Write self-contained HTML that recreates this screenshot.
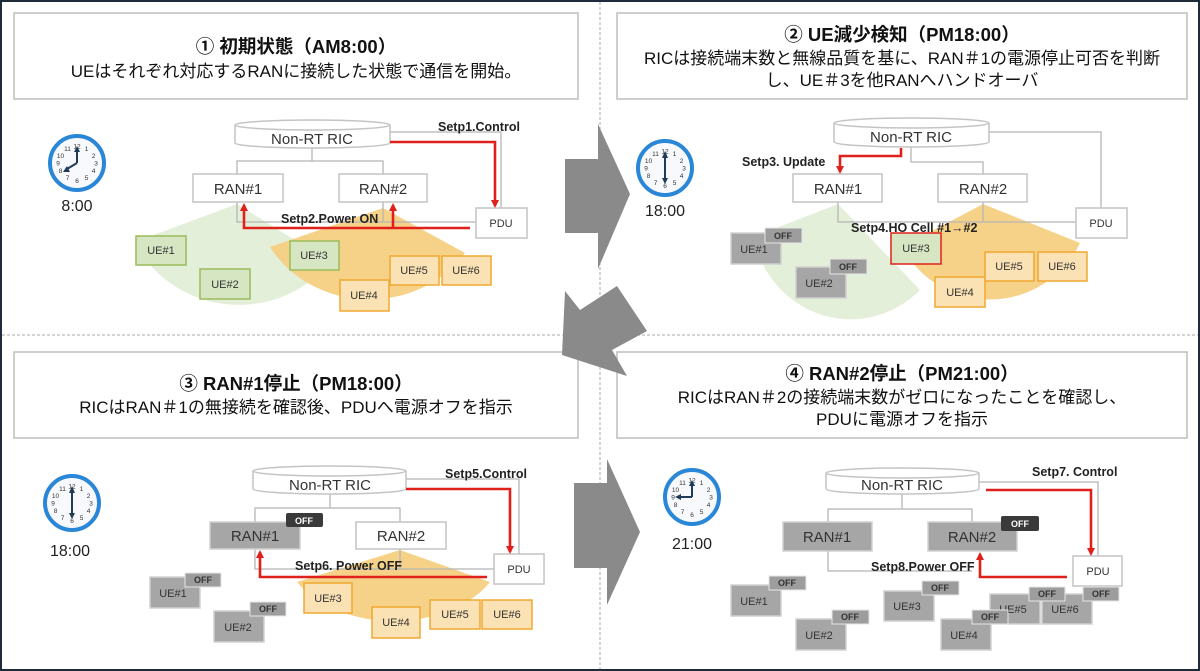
<!DOCTYPE html>
<html><head><meta charset="utf-8"><style>
html,body{margin:0;padding:0;background:#fff}
svg{display:block}
text{font-family:"Liberation Sans","Noto Sans CJK JP",sans-serif}
.t{font-size:18.5px;font-weight:bold;fill:#111;text-anchor:middle}
.s{font-size:17px;fill:#111;text-anchor:middle}
.hb{fill:#fff;stroke:#bdbdbd;stroke-width:1.5}
.g{stroke:#b5b5b5;stroke-width:1.3;fill:none}
.r{stroke:#e0201b;stroke-width:2.6;fill:none}
.box{fill:#fff;stroke:#c4c4c4;stroke-width:1.5}
.gbox{fill:#a6a6a6;stroke:#d0d0d0;stroke-width:1.5}
.ran{font-size:15px;fill:#333;text-anchor:middle}
.ue{font-size:11px;fill:#333;text-anchor:middle}
.lb{font-size:12.5px;font-weight:bold;fill:#222}
.ueg{fill:#d6e6c3;stroke:#9bbb59;stroke-width:1.5}
.ueo{fill:#fbe2b4;stroke:#f0a830;stroke-width:1.5}
.off{fill:#9d9d9d;stroke:#e6e6e6;stroke-width:1}
.offt{font-size:9px;font-weight:bold;fill:#333;text-anchor:middle}
.doff{fill:#3a3a3a}
.dofft{font-size:9px;font-weight:bold;fill:#fff;text-anchor:middle}
.cn{font-size:6.5px;fill:#333;text-anchor:middle}
.ck{font-size:16px;fill:#222;text-anchor:middle}
.arw{fill:#8a8a8a}
</style></head><body>
<svg width="1200" height="671" viewBox="0 0 1200 671" xmlns="http://www.w3.org/2000/svg">
<defs>
<marker id="ah" markerWidth="8" markerHeight="8" refX="6" refY="4" orient="auto" markerUnits="userSpaceOnUse"><path d="M0,0 L8,4 L0,8 Z" fill="#e0201b"/></marker>
</defs>
<rect x="1" y="1" width="1198" height="669" fill="#fff" stroke="#1e2b3a" stroke-width="2"/>
<line x1="600" y1="2" x2="600" y2="669" stroke="#aaa" stroke-dasharray="3,2"/>
<line x1="2" y1="335" x2="1198" y2="335" stroke="#aaa" stroke-dasharray="3,2"/>

<rect class="hb" x="14" y="13" width="564" height="86"/>
<text class="t" x="296" y="53">① 初期状態（AM8:00）</text>
<text class="s" x="296" y="77">UEはそれぞれ対応するRANに接続した状態で通信を開始。</text>
<rect class="hb" x="617" y="13" width="570" height="86"/>
<text class="t" x="902" y="41">② UE減少検知（PM18:00）</text>
<text class="s" x="902" y="64">RICは接続端末数と無線品質を基に、RAN＃1の電源停止可否を判断</text>
<text class="s" x="902" y="86">し、UE＃3を他RANへハンドオーバ</text>
<rect class="hb" x="14" y="352" width="564" height="86"/>
<text class="t" x="296" y="390">③ RAN#1停止（PM18:00）</text>
<text class="s" x="296" y="413">RICはRAN＃1の無接続を確認後、PDUへ電源オフを指示</text>
<rect class="hb" x="617" y="352" width="570" height="86"/>
<text class="t" x="902" y="380">④ RAN#2停止（PM21:00）</text>
<text class="s" x="902" y="403">RICはRAN＃2の接続端末数がゼロになったことを確認し、</text>
<text class="s" x="902" y="425">PDUに電源オフを指示</text>

<polygon class="arw" points="565,159 598,159 598,124 630,194 598,269 598,233 565,233"/>
<polygon class="arw" points="565,291 580,310 617,286 647,331 612,350 627,376 562,355"/>
<polygon class="arw" points="574,483 607,483 607,459 640,532 607,605 607,568 574,568"/>

<g transform="translate(77,163)">
<circle r="27" fill="#f7f9fc" stroke="#2a86d6" stroke-width="4"/>
<text class="cn" x="0" y="-14.5">12</text><text class="cn" x="9.5" y="-12">1</text><text class="cn" x="16.5" y="-5">2</text><text class="cn" x="19" y="2.5">3</text><text class="cn" x="16.5" y="10">4</text><text class="cn" x="9.5" y="17">5</text><text class="cn" x="0" y="20">6</text><text class="cn" x="-9.5" y="17">7</text><text class="cn" x="-16.5" y="10">8</text><text class="cn" x="-19" y="2.5">9</text><text class="cn" x="-16.5" y="-5">10</text><text class="cn" x="-9.5" y="-12">11</text>
<line x1="0" y1="0" x2="0" y2="-15" stroke="#1f3b57" stroke-width="2"/><polygon points="-3,-11 3,-11 0,-17" fill="#1f3b57"/>
<line x1="0" y1="0" x2="-10" y2="6" stroke="#1f3b57" stroke-width="2"/><polygon points="-7,9 -10,3 -14,9" fill="#1f3b57"/>
</g>
<text class="ck" x="77" y="211">8:00</text>

<path d="M237 204 L135 242 A115 110 0 0 0 330 262 Z" fill="#e3efd9"/>
<path d="M383 208 L270 247 A115 105 0 0 0 465 253 Z" fill="#f5cd7c" opacity="0.9"/>

<polyline class="g" points="312,147 312,161 237,161 237,174"/><polyline class="g" points="312,161 383,161 383,174"/>
<polyline class="g" points="390,132 501,132 501,208"/>
<polyline class="g" points="237,202 237,222 476,222"/><line class="g" x1="383" y1="202" x2="383" y2="222"/>
<path d="M235 125 L235 143 A77.5 5 0 0 0 390 143 L390 125" class="box"/><ellipse cx="312.5" cy="125" rx="77.5" ry="5" class="box"/>
<text class="ran" x="312" y="144">Non-RT RIC</text>
<rect class="box" x="193" y="174" width="90" height="28"/><text class="ran" x="238" y="194">RAN#1</text>
<rect class="box" x="339" y="174" width="88" height="28"/><text class="ran" x="383" y="194">RAN#2</text>
<rect class="box" x="476" y="208" width="51" height="30"/><text class="ue" x="501" y="227">PDU</text>
<polyline class="r" points="390,142 495,142 495,206" marker-end="url(#ah)"/>
<polyline class="r" points="470,228 244,228 244,205" marker-end="url(#ah)"/>
<line class="r" x1="393" y1="228" x2="393" y2="205" marker-end="url(#ah)"/>
<text class="lb" x="438" y="131">Setp1.Control</text>
<text class="lb" x="281" y="223">Setp2.Power ON</text>
<rect class="ueg" x="136" y="236" width="50" height="29"/><text class="ue" x="161" y="254">UE#1</text>
<rect class="ueg" x="200" y="269" width="50" height="30"/><text class="ue" x="225" y="288">UE#2</text>
<rect class="ueg" x="290" y="241" width="49" height="29"/><text class="ue" x="314" y="259">UE#3</text>
<rect class="ueo" x="340" y="280" width="49" height="31"/><text class="ue" x="364" y="299">UE#4</text>
<rect class="ueo" x="390" y="256" width="49" height="29"/><text class="ue" x="414" y="274">UE#5</text>
<rect class="ueo" x="442" y="256" width="49" height="29"/><text class="ue" x="466" y="274">UE#6</text>

<g transform="translate(665,168)">
<circle r="27" fill="#f7f9fc" stroke="#2a86d6" stroke-width="4"/>
<text class="cn" x="0" y="-14.5">12</text><text class="cn" x="9.5" y="-12">1</text><text class="cn" x="16.5" y="-5">2</text><text class="cn" x="19" y="2.5">3</text><text class="cn" x="16.5" y="10">4</text><text class="cn" x="9.5" y="17">5</text><text class="cn" x="0" y="20">6</text><text class="cn" x="-9.5" y="17">7</text><text class="cn" x="-16.5" y="10">8</text><text class="cn" x="-19" y="2.5">9</text><text class="cn" x="-16.5" y="-5">10</text><text class="cn" x="-9.5" y="-12">11</text>
<line x1="0" y1="-14" x2="0" y2="14" stroke="#1f3b57" stroke-width="2"/><polygon points="-3,-10 3,-10 0,-17" fill="#1f3b57"/><polygon points="-3,10 3,10 0,16" fill="#1f3b57"/>
</g>
<text class="ck" x="665" y="216">18:00</text>

<path d="M838 204 L753 237 A100 105 0 0 0 920 290 Z" fill="#e3efd9"/>
<path d="M983 204 L902 247 A100 100 0 0 0 1080 243 Z" fill="#f5cd7c" opacity="0.9"/>

<polyline class="g" points="911,147 911,162 983,162 983,174"/>
<polyline class="g" points="989,132 1101,132 1101,208"/>
<polyline class="g" points="838,202 838,222 1076,222"/><line class="g" x1="983" y1="202" x2="983" y2="222"/>
<path d="M834 123 L834 142 A77.5 5 0 0 0 989 142 L989 123" class="box"/><ellipse cx="911.5" cy="123" rx="77.5" ry="5" class="box"/>
<text class="ran" x="911" y="142">Non-RT RIC</text>
<rect class="box" x="793" y="174" width="89" height="28"/><text class="ran" x="838" y="194">RAN#1</text>
<rect class="box" x="938" y="174" width="89" height="28"/><text class="ran" x="983" y="194">RAN#2</text>
<rect class="box" x="1076" y="208" width="51" height="30"/><text class="ue" x="1101" y="227">PDU</text>
<polyline class="r" points="901,148 901,156 840,156 840,172" marker-end="url(#ah)"/>
<text class="lb" x="742" y="166">Setp3. Update</text>
<rect class="gbox" x="731" y="233" width="50" height="31"/><text class="ue" x="754" y="253">UE#1</text>
<rect class="off" x="765" y="228" width="37" height="15"/><text class="offt" x="783" y="239">OFF</text>
<rect class="gbox" x="796" y="267" width="50" height="31"/><text class="ue" x="819" y="287">UE#2</text>
<rect class="off" x="830" y="259" width="37" height="15"/><text class="offt" x="848" y="270">OFF</text>
<rect x="891" y="233" width="50" height="31" fill="#d6e6c3" stroke="#e0201b" stroke-width="1.5"/><text class="ue" x="916" y="252">UE#3</text>
<rect class="ueo" x="935" y="277" width="50" height="30"/><text class="ue" x="960" y="296">UE#4</text>
<rect class="ueo" x="985" y="252" width="49" height="29"/><text class="ue" x="1009" y="270">UE#5</text>
<rect class="ueo" x="1038" y="252" width="49" height="29"/><text class="ue" x="1062" y="270">UE#6</text>
<text class="lb" x="851" y="232">Setp4.HO Cell #1→#2</text>

<g transform="translate(72,503)">
<circle r="27" fill="#f7f9fc" stroke="#2a86d6" stroke-width="4"/>
<text class="cn" x="0" y="-14.5">12</text><text class="cn" x="9.5" y="-12">1</text><text class="cn" x="16.5" y="-5">2</text><text class="cn" x="19" y="2.5">3</text><text class="cn" x="16.5" y="10">4</text><text class="cn" x="9.5" y="17">5</text><text class="cn" x="0" y="20">6</text><text class="cn" x="-9.5" y="17">7</text><text class="cn" x="-16.5" y="10">8</text><text class="cn" x="-19" y="2.5">9</text><text class="cn" x="-16.5" y="-5">10</text><text class="cn" x="-9.5" y="-12">11</text>
<line x1="0" y1="-14" x2="0" y2="14" stroke="#1f3b57" stroke-width="2"/><polygon points="-3,-10 3,-10 0,-17" fill="#1f3b57"/><polygon points="-3,10 3,10 0,16" fill="#1f3b57"/>
</g>
<text class="ck" x="70" y="556">18:00</text>

<path d="M400 550 L297 582 A110 75 0 0 0 490 582 Z" fill="#f5cd7c" opacity="0.9"/>

<polyline class="g" points="330,493 330,508 255,508 255,522"/><polyline class="g" points="330,508 400,508 400,522"/>
<polyline class="g" points="406,479 519,479 519,554"/>
<polyline class="g" points="255,549 255,569 494,569"/><line class="g" x1="400" y1="549" x2="400" y2="569"/>
<path d="M253 471 L253 489 A76.5 5 0 0 0 406 489 L406 471" class="box"/><ellipse cx="329.5" cy="471" rx="76.5" ry="5" class="box"/>
<text class="ran" x="330" y="490">Non-RT RIC</text>
<rect class="gbox" x="210" y="522" width="90" height="27"/><text class="ran" x="255" y="541">RAN#1</text>
<rect class="doff" x="286" y="513" width="37" height="14" rx="2"/><text class="dofft" x="304" y="524">OFF</text>
<rect class="box" x="356" y="522" width="90" height="27"/><text class="ran" x="401" y="541">RAN#2</text>
<rect class="box" x="494" y="554" width="50" height="30"/><text class="ue" x="519" y="573">PDU</text>
<polyline class="r" points="406,489 510,489 510,552" marker-end="url(#ah)"/>
<polyline class="r" points="487,577 260,577 260,552" marker-end="url(#ah)"/>
<text class="lb" x="445" y="478">Setp5.Control</text>
<text class="lb" x="295" y="570">Setp6. Power OFF</text>
<rect class="gbox" x="150" y="577" width="50" height="31"/><text class="ue" x="173" y="597">UE#1</text>
<rect class="off" x="185" y="573" width="36" height="14"/><text class="offt" x="203" y="583">OFF</text>
<rect class="gbox" x="214" y="611" width="50" height="31"/><text class="ue" x="238" y="631">UE#2</text>
<rect class="off" x="250" y="602" width="36" height="14"/><text class="offt" x="268" y="612">OFF</text>
<rect class="ueo" x="304" y="583" width="48" height="30"/><text class="ue" x="328" y="602">UE#3</text>
<rect class="ueo" x="372" y="607" width="48" height="31"/><text class="ue" x="396" y="626">UE#4</text>
<rect class="ueo" x="430" y="600" width="50" height="29"/><text class="ue" x="455" y="618">UE#5</text>
<rect class="ueo" x="482" y="600" width="50" height="29"/><text class="ue" x="507" y="618">UE#6</text>

<g transform="translate(692,497)">
<circle r="27" fill="#f7f9fc" stroke="#2a86d6" stroke-width="4"/>
<text class="cn" x="0" y="-14.5">12</text><text class="cn" x="9.5" y="-12">1</text><text class="cn" x="16.5" y="-5">2</text><text class="cn" x="19" y="2.5">3</text><text class="cn" x="16.5" y="10">4</text><text class="cn" x="9.5" y="17">5</text><text class="cn" x="0" y="20">6</text><text class="cn" x="-9.5" y="17">7</text><text class="cn" x="-16.5" y="10">8</text><text class="cn" x="-19" y="2.5">9</text><text class="cn" x="-16.5" y="-5">10</text><text class="cn" x="-9.5" y="-12">11</text>
<line x1="0" y1="0" x2="0" y2="-15" stroke="#1f3b57" stroke-width="2"/><polygon points="-3,-11 3,-11 0,-17" fill="#1f3b57"/>
<line x1="0" y1="0" x2="-13" y2="0" stroke="#1f3b57" stroke-width="2"/><polygon points="-11,-3 -11,3 -17,0" fill="#1f3b57"/>
</g>
<text class="ck" x="692" y="549">21:00</text>

<polyline class="g" points="902,493 902,509 828,509 828,522"/><polyline class="g" points="902,509 972,509 972,522"/>
<polyline class="g" points="979,482 1098,482 1098,556"/>
<polyline class="g" points="828,551 828,571 972,571"/>
<path d="M826 473 L826 489 A76.5 5 0 0 0 979 489 L979 473" class="box"/><ellipse cx="902.5" cy="473" rx="76.5" ry="5" class="box"/>
<text class="ran" x="902" y="490">Non-RT RIC</text>
<rect class="gbox" x="783" y="522" width="89" height="29"/><text class="ran" x="827" y="542">RAN#1</text>
<rect class="gbox" x="928" y="522" width="89" height="29"/><text class="ran" x="972" y="542">RAN#2</text>
<rect class="doff" x="1001" y="516" width="38" height="15" rx="2"/><text class="dofft" x="1020" y="527">OFF</text>
<rect class="box" x="1073" y="556" width="49" height="30"/><text class="ue" x="1098" y="575">PDU</text>
<polyline class="r" points="986,490 1091,490 1091,554" marker-end="url(#ah)"/>
<polyline class="r" points="1067,577 980,577 980,554" marker-end="url(#ah)"/>
<text class="lb" x="1032" y="476">Setp7. Control</text>
<text class="lb" x="871" y="571">Setp8.Power OFF</text>
<rect class="gbox" x="731" y="585" width="50" height="31"/><text class="ue" x="754" y="605">UE#1</text>
<rect class="off" x="769" y="576" width="37" height="14"/><text class="offt" x="787" y="586">OFF</text>
<rect class="gbox" x="796" y="619" width="50" height="31"/><text class="ue" x="819" y="639">UE#2</text>
<rect class="off" x="832" y="610" width="37" height="14"/><text class="offt" x="850" y="620">OFF</text>
<rect class="gbox" x="884" y="591" width="50" height="30"/><text class="ue" x="907" y="610">UE#3</text>
<rect class="off" x="922" y="581" width="37" height="14"/><text class="offt" x="940" y="591">OFF</text>
<rect class="gbox" x="990" y="594" width="50" height="30"/><text class="ue" x="1013" y="613">UE#5</text>
<rect class="gbox" x="1042" y="594" width="50" height="30"/><text class="ue" x="1065" y="613">UE#6</text>
<rect class="off" x="1029" y="587" width="36" height="14"/><text class="offt" x="1047" y="597">OFF</text>
<rect class="off" x="1083" y="587" width="36" height="14"/><text class="offt" x="1101" y="597">OFF</text>
<rect class="gbox" x="941" y="619" width="50" height="31"/><text class="ue" x="964" y="639">UE#4</text>
<rect class="off" x="972" y="610" width="36" height="14"/><text class="offt" x="990" y="620">OFF</text>
</svg>
</body></html>
